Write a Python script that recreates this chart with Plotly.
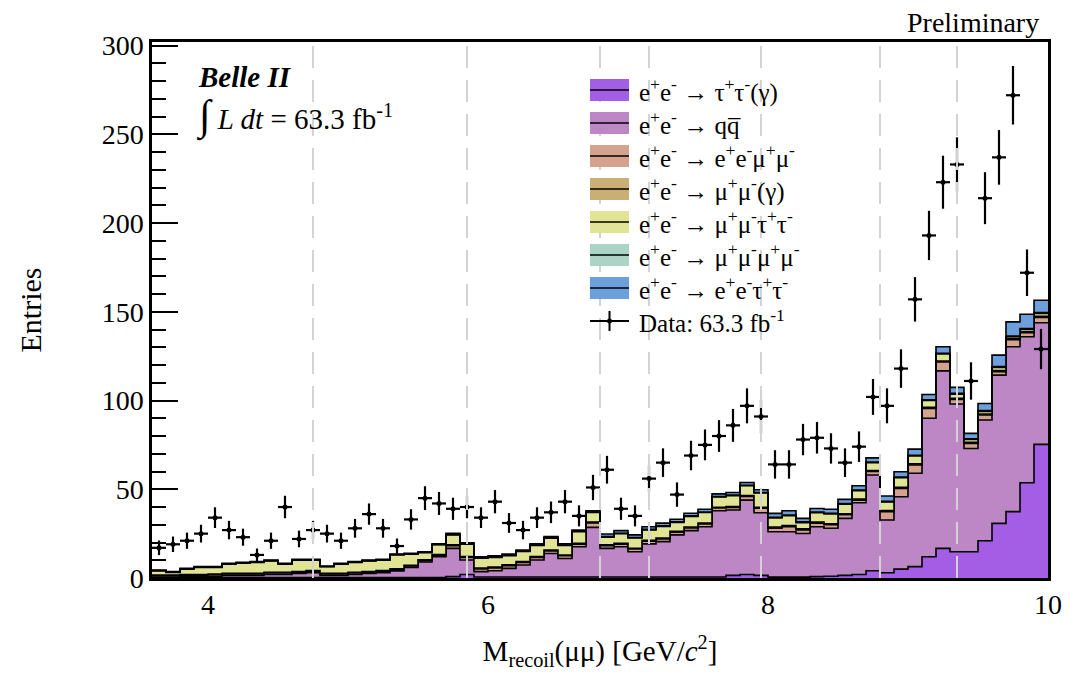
import numpy as np
import plotly.graph_objects as go

# ---------------- data ----------------
bin_edges = np.round(3.6 + 0.1 * np.arange(65), 2)   # GeV/c^2, 64 bins of 0.1
bin_width = 0.1

tau_tau = [0.3,0.3,0.3,0.3,0.3,0.3,0.3,0.3,0.3,0.3,
           0.3,0.3,0.3,0.3,0.3,0.3,0.3,0.3,0.3,0.3,
           0.3,0.8,2.0,0.6,0.6,0.6,0.6,0.6,0.6,0.6,
           0.6,0.6,0.6,0.6,0.6,0.6,0.6,0.6,0.6,0.6,
           0.6,1.5,2.0,1.5,0.5,0.5,0.5,0.8,1.0,1.5,
           2.0,4.1,3.0,5.0,6.4,12.0,16.7,14.8,14.8,21.0,
           30.8,37.4,53.7,75.3]
qqbar = [0.2,0.2,0.4,0.5,0.7,1.2,1.2,1.2,1.7,1.7,
         2.2,2.7,1.2,1.2,1.7,2.2,2.7,3.7,5.7,8.7,
         11.7,15.9,8.1,3.0,3.5,4.8,6.7,9.5,13.2,10.4,
         17.0,27.9,16.1,17.0,14.2,18.6,19.9,23.7,26.1,28.3,
         37.3,36.8,41.9,35.3,25.6,25.6,24.6,28.1,27.0,32.1,
         40.4,53.9,29.7,40.8,52.6,78.0,100.0,83.2,58.2,68.0,
         83.5,92.9,82.2,68.5]
ee_mumu = [0.8,0.8,0.8,0.8,0.8,0.8,0.8,0.8,0.8,0.8,
           0.8,0.8,0.8,0.8,0.8,0.8,0.8,0.8,0.8,0.8,
           0.8,1.5,1.5,1.5,1.5,1.5,1.5,1.5,1.5,1.5,
           1.5,2.5,1.5,1.5,1.5,1.5,1.5,1.5,1.5,1.5,
           1.5,1.5,2.0,2.5,2.0,2.8,2.0,2.0,2.0,2.0,
           1.5,2.0,4.7,4.7,4.7,5.6,5.0,2.6,2.8,2.8,
           2.0,4.0,2.3,3.0]
mumu_gamma = [0.4]*21 + [0.5]*23 + [0.6]*20
mumu_tautau = [2.3,1.4,3.0,3.9,3.7,5.1,5.6,6.0,6.4,4.6,
               6.3,5.8,3.6,5.1,5.5,5.9,5.8,7.8,6.2,4.1,
               5.5,5.6,6.9,5.5,5.5,5.2,5.6,6.2,6.6,5.3,
               6.5,5.4,4.3,5.3,5.7,5.9,6.6,5.0,6.0,6.0,
               5.7,6.1,5.6,8.1,5.1,5.6,3.5,5.3,5.5,5.4,
               4.7,4.4,4.8,5.4,4.5,3.8,3.9,2.4,1.7,1.5,
               1.8,1.0,1.4,1.7]
mumu_mumu = [0.2]*21 + [0.3]*23 + [0.4]*20
ee_tautau = [0.3,0.3,0.3,0.3,0.3,0.3,0.3,0.3,0.3,0.3,
             0.3,0.3,0.3,0.3,0.3,0.3,0.3,0.3,0.3,0.3,
             0.3,0.6,0.6,0.6,0.6,0.6,0.6,0.6,0.6,0.6,
             0.6,0.6,1.5,1.5,1.5,1.5,1.5,1.5,1.5,1.5,
             1.5,1.5,1.5,1.5,2.2,2.4,2.0,2.0,2.2,2.3,
             2.4,2.3,3.0,3.0,3.4,3.0,3.7,3.4,3.0,4.0,
             6.5,8.0,8.0,7.0]
data_counts = [17,19,21,25,34,27,23,13,21,40,
               22,27,25,21,28,36,28,18,33,45,
               42,39,40,34,43,31,27,34,37,43,
               35,51,61,39,35,56,65,47,69,75,
               80,86,97,91,64,64,78,79,73,65,
               74,102,97,118,157,193,223,233,111,214,
               237,272,172,129]
marker_lines = [4.75, 5.85, 6.80, 7.15, 7.95, 8.80, 9.35]

components = [
    ("e<sup>+</sup>e<sup>-</sup> → τ<sup>+</sup>τ<sup>-</sup>(γ)", tau_tau, "#a45ee5"),
    ("e<sup>+</sup>e<sup>-</sup> → qq̅", qqbar, "#bd87c6"),
    ("e<sup>+</sup>e<sup>-</sup> → e<sup>+</sup>e<sup>-</sup>μ<sup>+</sup>μ<sup>-</sup>", ee_mumu, "#d5a290"),
    ("e<sup>+</sup>e<sup>-</sup> → μ<sup>+</sup>μ<sup>-</sup>(γ)", mumu_gamma, "#c9ae76"),
    ("e<sup>+</sup>e<sup>-</sup> → μ<sup>+</sup>μ<sup>-</sup>τ<sup>+</sup>τ<sup>-</sup>", mumu_tautau, "#e0e494"),
    ("e<sup>+</sup>e<sup>-</sup> → μ<sup>+</sup>μ<sup>-</sup>μ<sup>+</sup>μ<sup>-</sup>", mumu_mumu, "#abd4c6"),
    ("e<sup>+</sup>e<sup>-</sup> → e<sup>+</sup>e<sup>-</sup>τ<sup>+</sup>τ<sup>-</sup>", ee_tautau, "#6d9fdc"),
]
data_label = "Data: 63.3 fb<sup>-1</sup>"

FONT = "Liberation Serif"
fig = go.Figure()

cum = np.zeros(len(bin_edges) - 1)
for i, (name, vals, col) in enumerate(components):
    cum = cum + np.array(vals)
    ystep = np.append(cum, cum[-1])
    fig.add_trace(go.Scatter(
        x=bin_edges, y=ystep, mode="lines", line_shape="hv",
        line=dict(color="black", width=1.6),
        fill="tozeroy" if i == 0 else "tonexty", fillcolor=col,
        name=name, showlegend=False, hoverinfo="skip"))

centers = bin_edges[:-1] + bin_width / 2
counts = np.array(data_counts, dtype=float)
fig.add_trace(go.Scatter(
    x=centers, y=counts, mode="markers", name="Data",
    marker=dict(color="black", size=5),
    error_y=dict(type="data", array=np.sqrt(counts), color="black", thickness=2.2, width=0),
    error_x=dict(type="constant", value=bin_width / 2, color="black", thickness=2.2, width=0),
    showlegend=False))

for xv in marker_lines:
    fig.add_shape(type="line", x0=xv, x1=xv, y0=0, y1=1, yref="y domain", xref="x",
                  line=dict(color="#d3d3d3", width=2, dash="22px,12px"), layer="above")

# ---- manual legend (ROOT style) in paper coordinates ----
PL, PR, PT, PB = 152.0, 1048.0, 42.0, 578.0      # plot area in page pixels
def px(p):
    return (p - PL) / (PR - PL)
def py(p):
    return (PB - p) / (PB - PT)

sym_x0, sym_x1, txt_x = 590, 629, 637
row0, row_h, box_h = 90, 33, 22
for k, (name, vals, col) in enumerate(components):
    cy = row0 + row_h * k
    fig.add_shape(type="rect", xref="paper", yref="paper",
                  x0=px(sym_x0), x1=px(sym_x1), y0=py(cy + box_h / 2), y1=py(cy - box_h / 2),
                  fillcolor=col, line=dict(width=0), layer="above")
    fig.add_shape(type="line", xref="paper", yref="paper",
                  x0=px(sym_x0), x1=px(sym_x1), y0=py(cy), y1=py(cy),
                  line=dict(color="black", width=1.6), layer="above")
    fig.add_annotation(text=name, x=px(txt_x), y=py(cy), xref="paper", yref="paper",
                       xanchor="left", yanchor="middle", showarrow=False,
                       font=dict(family=FONT, size=25, color="black"))
cy = row0 + row_h * len(components)
fig.add_shape(type="line", xref="paper", yref="paper",
              x0=px(sym_x0), x1=px(sym_x1), y0=py(cy), y1=py(cy),
              line=dict(color="black", width=2), layer="above")
fig.add_shape(type="line", xref="paper", yref="paper",
              x0=px((sym_x0 + sym_x1) / 2), x1=px((sym_x0 + sym_x1) / 2),
              y0=py(cy - 10), y1=py(cy + 10),
              line=dict(color="black", width=2), layer="above")
fig.add_shape(type="circle", xref="paper", yref="paper",
              x0=px((sym_x0 + sym_x1) / 2 - 2.5), x1=px((sym_x0 + sym_x1) / 2 + 2.5),
              y0=py(cy + 2.5), y1=py(cy - 2.5),
              fillcolor="black", line=dict(width=0), layer="above")
fig.add_annotation(text=data_label, x=px(txt_x), y=py(cy), xref="paper", yref="paper",
                   xanchor="left", yanchor="middle", showarrow=False,
                   font=dict(family=FONT, size=25, color="black"))

fig.add_annotation(text="<b><i>Belle II</i></b>", x=px(196), y=py(77), xref="paper", yref="paper",
                   xanchor="left", yanchor="middle", showarrow=False,
                   font=dict(family=FONT, size=29, color="black"))
fig.add_annotation(text="<span style='font-size:42px'>∫</span> <i>L dt</i> = 63.3 fb<sup>-1</sup>",
                   x=px(194), y=py(116), xref="paper", yref="paper",
                   xanchor="left", yanchor="middle", showarrow=False,
                   font=dict(family=FONT, size=29, color="black"))
fig.add_annotation(text="Preliminary", x=px(1041), y=py(22), xref="paper", yref="paper",
                   xanchor="right", yanchor="middle", showarrow=False,
                   font=dict(family=FONT, size=28, color="black"))

# page body has an 8px default margin: compensate so the plot area lands at PL..PR, PT..PB
OFF = 8
fig.update_layout(
    width=1082, height=675,
    margin=dict(l=PL - OFF, r=1082 - PR + OFF, t=PT - OFF, b=675 - PB + OFF),
    plot_bgcolor="white", paper_bgcolor="white",
    font=dict(family=FONT, color="black"),
    showlegend=False,
    xaxis=dict(range=[3.6, 10.0], tickvals=[4, 6, 8, 10], ticks="",
               showline=True, mirror=True, linecolor="black", linewidth=2.5,
               showgrid=False, zeroline=False, tickfont=dict(size=28),
               title=dict(text="M<sub>recoil</sub>(μμ) [GeV/<i>c</i><sup>2</sup>]",
                          font=dict(size=29), standoff=22)),
    yaxis=dict(range=[0, 302], tickvals=[0, 50, 100, 150, 200, 250, 300], ticks="inside",
               ticklen=26, tickwidth=1.5, tickcolor="black",
               minor=dict(dtick=10, ticks="inside", ticklen=14, tickwidth=1.5, tickcolor="black"),
               showline=True, mirror=True, linecolor="black", linewidth=2.5,
               showgrid=False, zeroline=False, tickfont=dict(size=28),
               title=dict(text="Entries", font=dict(size=30), standoff=52)),
)

fig.write_html("out.html")
